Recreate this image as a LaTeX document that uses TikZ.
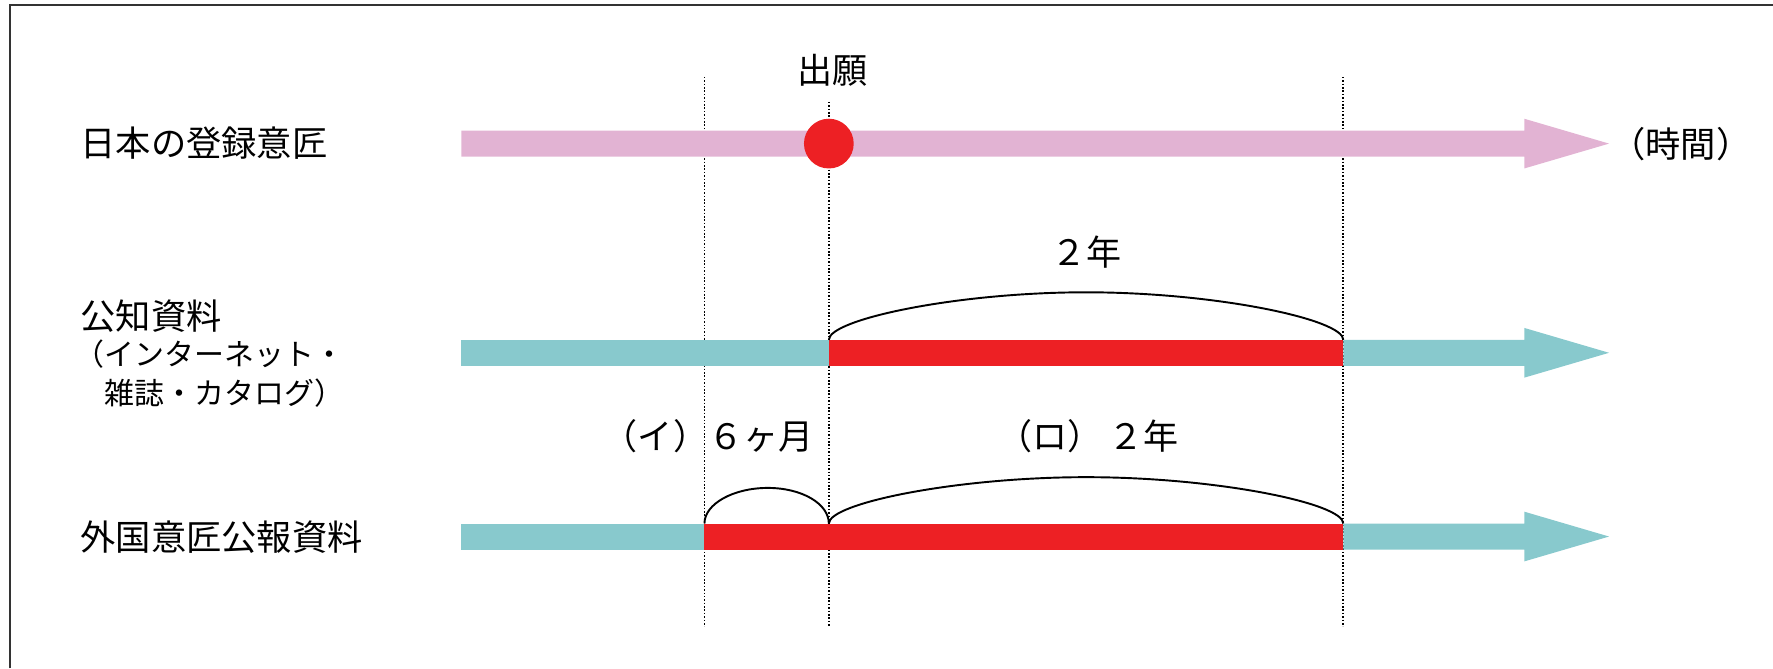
\documentclass[tikz,border=0pt]{standalone}
\usepackage{fontspec}
\newfontfamily\jpfont{Noto Sans CJK JP}
\definecolor{pinkbar}{HTML}{E2B3D3}
\definecolor{tealbar}{HTML}{88C9CD}
\definecolor{redbar}{HTML}{ED2024}
\begin{document}
\begin{tikzpicture}[x=1pt,y=-1pt,
  lbl/.style={font=\jpfont\fontsize{31.2}{37}\selectfont, inner sep=0pt},
  sublbl/.style={font=\jpfont\fontsize{26.5}{35}\selectfont, inner sep=0pt, align=left},
  ann/.style={font=\jpfont\fontsize{31}{37}\selectfont, inner sep=0pt},
  dotline/.style={line width=1.6pt, dash pattern=on 1.4pt off 1.6pt},
  bracecurve/.style={line width=1.7pt}]
\useasboundingbox (0,0) rectangle (1568,591);
% frame (top and left edges)
\draw[line width=1.8pt, color=black!80] (9,591) -- (9,4.5) -- (1568,4.5);

% guide coordinates
\coordinate (dAtop) at (623,68);  \coordinate (dAbot) at (623,554);
\coordinate (dBtop) at (733,90);  \coordinate (dBbot) at (733,554);
\coordinate (dCtop) at (1188,68); \coordinate (dCbot) at (1188,554);
\draw[dotline] (dAtop) -- (dAbot);
\draw[dotline] (dBtop) -- (dBbot);
\draw[dotline] (dCtop) -- (dCbot);

% row 1 : pink arrow
\fill[pinkbar] (408,115.5) -- (1348,115.5) -- (1348,105) -- (1423,127) -- (1348,149) -- (1348,138.5) -- (408,138.5) -- cycle;
\fill[redbar] (733,127) circle[radius=22];

% row 2
\fill[tealbar] (408,300.5) rectangle (733,323.5);
\fill[redbar] (733,300.5) rectangle (1188,323.5);
\fill[tealbar] (1188,300.5) -- (1348,300.5) -- (1348,290) -- (1423,312) -- (1348,334) -- (1348,323.5) -- (1188,323.5) -- cycle;

% row 3
\fill[tealbar] (408,463) rectangle (623,486);
\fill[redbar] (623,463) rectangle (1188,486);
\fill[tealbar] (1188,463) -- (1348,463) -- (1348,452.5) -- (1423,474.5) -- (1348,496.5) -- (1348,486) -- (1188,486) -- cycle;

% brackets
\coordinate (bL2) at (733,300.5); \coordinate (bM2) at (960.5,258.5); \coordinate (bR2) at (1188,300.5);
\draw[bracecurve] (bL2) .. controls (733,282.5) and (846,258.5) .. (bM2) .. controls (1075,258.5) and (1188,282.5) .. (bR2);
\coordinate (bL3) at (733,463); \coordinate (bM3) at (960.5,422); \coordinate (bR3) at (1188,463);
\draw[bracecurve] (bL3) .. controls (733,445) and (846,422) .. (bM3) .. controls (1075,422) and (1188,445) .. (bR3);
\coordinate (sL3) at (623,463); \coordinate (sM3) at (679,431.5);
\draw[bracecurve] (sL3) .. controls (623,445.6) and (648.6,431.5) .. (sM3) .. controls (709.4,431.5) and (733,445.6) .. (bL3);

% labels
\node[lbl, anchor=west] (l1) at (71,127) {日本の登録意匠};
\node[lbl, anchor=west] (l2) at (71,280) {公知資料};
\node[sublbl, anchor=west] (l2b) at (66,330.5) {（インターネット・\\　雑誌・カタログ）};
\node[lbl, anchor=west] (l3) at (71,475) {外国意匠公報資料};
\node[lbl, anchor=west] (time) at (1424,127) {（時間）};
\node[ann] (filing) at (736,62) {出願};
\node[ann] (two) at (961,223) {２年};
\node[ann, anchor=west] (six) at (533,385.5) {（イ）６ヶ月};
\node[ann] (ro) at (962,385.5) {（ロ）\hspace{5pt}２年};
\end{tikzpicture}
\end{document}
